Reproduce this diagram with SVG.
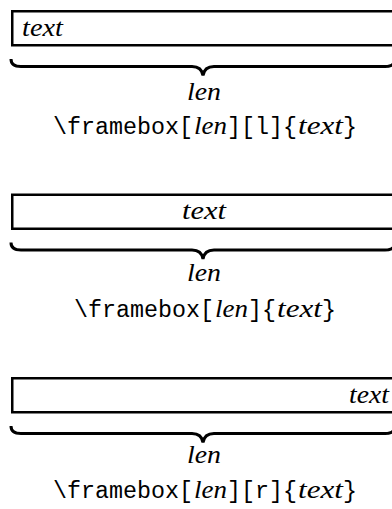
<svg xmlns="http://www.w3.org/2000/svg" width="392" height="509" viewBox="0 0 392 509">
<style>
.box{fill:none;stroke:#000;stroke-width:2.5}
.brace{fill:none;stroke:#000;stroke-width:3}
.it{font-family:"Liberation Serif","Times New Roman",serif;font-style:italic;font-size:25px;fill:#000}
.tt{font-family:"Liberation Mono","Courier New",monospace;font-size:23px;fill:#000}
.mid{text-anchor:middle}
</style>
<defs>
<path id="brace" class="brace" d="M11,59 C11,64 14,66.5 21,66.5 L192,66.5 C198,66.5 202,69 203,75.5 C204,69 208,66.5 214,66.5 L385,66.5 C392,66.5 395,64 395,59"/>
</defs>
<rect width="392" height="509" fill="#fff"/>
<g id="left">
<rect id="box-left" class="box" x="12.25" y="11.25" width="382" height="34"/>
<text class="it" x="22" y="36" textLength="41" lengthAdjust="spacingAndGlyphs">text</text>
<use href="#brace"/>
<text class="it mid" x="204" y="100" textLength="34" lengthAdjust="spacingAndGlyphs">len</text>
<text class="tt" x="53" y="134" textLength="140" lengthAdjust="spacingAndGlyphs">\framebox[</text>
<text class="it" x="194" y="134" textLength="33" lengthAdjust="spacingAndGlyphs">len</text>
<text class="tt" x="227" y="134" textLength="70" lengthAdjust="spacingAndGlyphs">][l]{</text>
<text class="it" x="298" y="134" textLength="45" lengthAdjust="spacingAndGlyphs">text</text>
<text class="tt" x="343" y="134" textLength="14" lengthAdjust="spacingAndGlyphs">}</text>
</g>
<g id="center" transform="translate(0,183.5)">
<rect id="box-center" class="box" x="12.25" y="11.25" width="382" height="34"/>
<text class="it mid" x="204" y="35.5" textLength="44" lengthAdjust="spacingAndGlyphs">text</text>
<use href="#brace"/>
<text class="it mid" x="204" y="97" textLength="34" lengthAdjust="spacingAndGlyphs">len</text>
<text class="tt" x="74" y="133.5" textLength="140" lengthAdjust="spacingAndGlyphs">\framebox[</text>
<text class="it" x="215" y="133.5" textLength="33" lengthAdjust="spacingAndGlyphs">len</text>
<text class="tt" x="248" y="133.5" textLength="28" lengthAdjust="spacingAndGlyphs">]{</text>
<text class="it" x="277" y="133.5" textLength="45" lengthAdjust="spacingAndGlyphs">text</text>
<text class="tt" x="322" y="133.5" textLength="14" lengthAdjust="spacingAndGlyphs">}</text>
</g>
<g id="right" transform="translate(0,367)">
<rect id="box-right" class="box" x="12.25" y="11.25" width="382" height="34"/>
<text class="it" x="349" y="35.5" textLength="40" lengthAdjust="spacingAndGlyphs">text</text>
<use href="#brace"/>
<text class="it mid" x="204" y="96" textLength="34" lengthAdjust="spacingAndGlyphs">len</text>
<text class="tt" x="53" y="131" textLength="140" lengthAdjust="spacingAndGlyphs">\framebox[</text>
<text class="it" x="194" y="131" textLength="33" lengthAdjust="spacingAndGlyphs">len</text>
<text class="tt" x="227" y="131" textLength="70" lengthAdjust="spacingAndGlyphs">][r]{</text>
<text class="it" x="298" y="131" textLength="45" lengthAdjust="spacingAndGlyphs">text</text>
<text class="tt" x="343" y="131" textLength="14" lengthAdjust="spacingAndGlyphs">}</text>
</g>
</svg>
